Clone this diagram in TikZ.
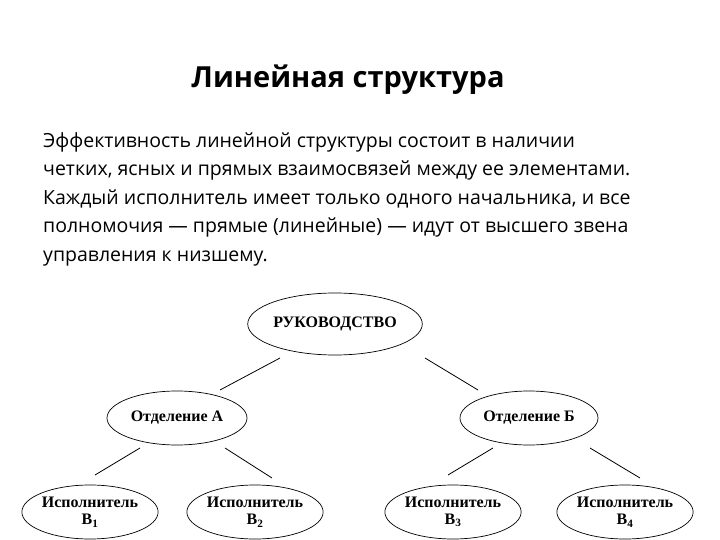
\documentclass[tikz,border=0pt]{standalone}
\usepackage{fontspec}
\usetikzlibrary{shapes.geometric}
\setmainfont{Open Sans}
\newfontfamily\tnr{Liberation Serif}
\begin{document}
\begin{tikzpicture}[x=1pt,y=-1pt,
  ell/.style={draw,ellipse,line width=0.7pt,minimum width=#1,minimum height=54pt,inner sep=0pt,font=\tnr\bfseries\fontsize{16}{17}\selectfont,align=center},
  ln/.style={line width=0.8pt}]
\useasboundingbox (0,0) rectangle (720,540);
\node[font=\bfseries\fontsize{29}{32}\selectfont] (title) at (348,80) {Линейная структура};
\node[anchor=north west,align=left,font=\fontsize{19.5}{28.5}\selectfont,inner sep=0pt] (body) at (43,132)
{Эффективность линейной структуры состоит в наличии\\
четких, ясных и прямых взаимосвязей между ее элементами.\\
Каждый исполнитель имеет только одного начальника, и все\\
полномочия — прямые (линейные) — идут от высшего звена\\
управления к низшему.};
\node[ell=160pt,minimum height=62pt] (top) at (335,324) {РУКОВОДСТВО};
\node[ell=140pt] (a) at (177,418) {Отделение А};
\node[ell=138pt] (b) at (529,418) {Отделение Б};
\node[ell=130pt] (e1) at (90,512) {Исполнитель\\В\textsubscript{1}};
\node[ell=130pt] (e2) at (255,512) {Исполнитель\\В\textsubscript{2}};
\node[ell=130pt] (e3) at (453,512) {Исполнитель\\В\textsubscript{3}};
\node[ell=130pt] (e4) at (625,512) {Исполнитель\\В\textsubscript{4}};
\coordinate (t1) at (280,358); \coordinate (t2) at (220,390);
\coordinate (t3) at (425,358); \coordinate (t4) at (478,390);
\coordinate (a1) at (140,448); \coordinate (a2) at (95,475);
\coordinate (a3) at (225,448); \coordinate (a4) at (272,478);
\coordinate (b1) at (493,448); \coordinate (b2) at (448,475);
\coordinate (b3) at (590,448); \coordinate (b4) at (640,478);
\draw[ln] (t1)--(t2); \draw[ln] (t3)--(t4);
\draw[ln] (a1)--(a2); \draw[ln] (a3)--(a4);
\draw[ln] (b1)--(b2); \draw[ln] (b3)--(b4);
\end{tikzpicture}
\end{document}
